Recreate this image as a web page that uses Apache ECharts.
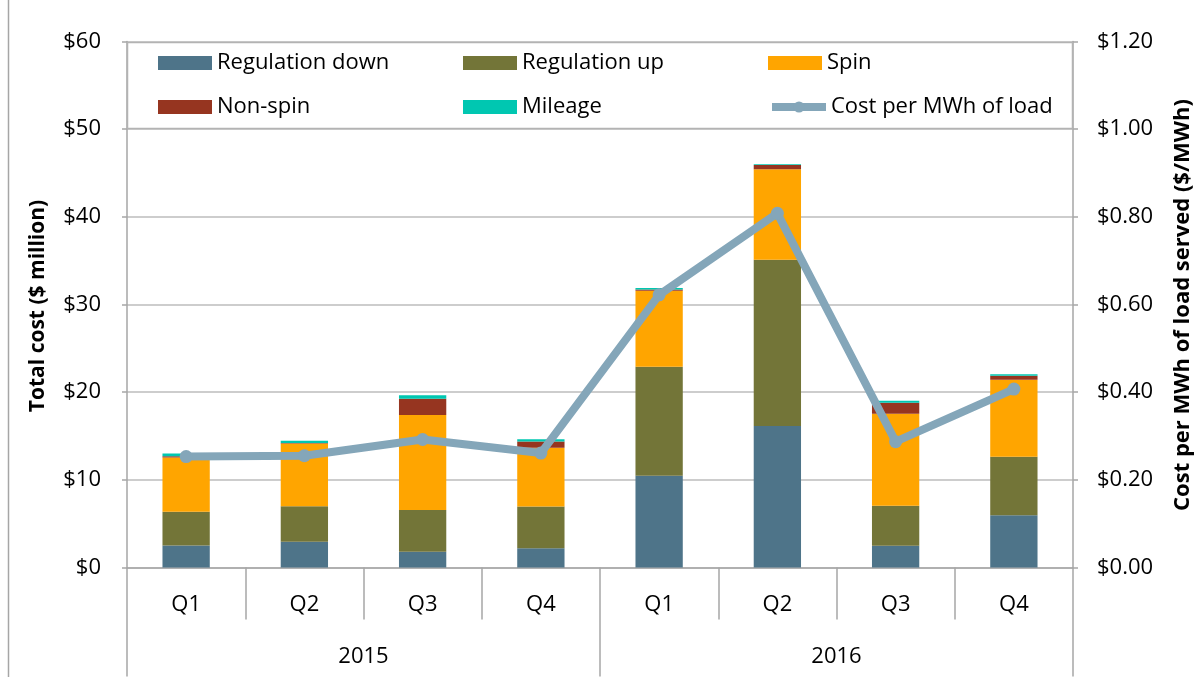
<!DOCTYPE html>
<html>
<head>
<meta charset="utf-8">
<script src="https://cdn.jsdelivr.net/npm/echarts@6/dist/echarts.min.js"></script>
<style>
  html, body { margin: 0; padding: 0; background: #fff; }
  #chart { width: 1195px; height: 677px; }
</style>
</head>
<body>
<div id="chart"></div>
<script>
// Ancillary service costs by quarter ($ million) and cost per MWh of load ($/MWh)
const quarters = ['Q1', 'Q2', 'Q3', 'Q4', 'Q1', 'Q2', 'Q3', 'Q4'];
const years = ['2015', '2016'];
const regulationDown = [2.5, 2.95, 1.8, 2.2, 10.47, 16.13, 2.49, 5.95];
const regulationUp = [3.85, 4.05, 4.75, 4.75, 12.43, 18.97, 4.56, 6.68];
const spin = [6.2, 7.15, 10.85, 6.72, 8.67, 10.34, 10.49, 8.78];
const nonSpin = [0.15, 0.05, 1.85, 0.69, 0.15, 0.46, 1.26, 0.46];
const mileage = [0.3, 0.25, 0.4, 0.27, 0.15, 0.1, 0.22, 0.16];
const costPerMWh = [0.253, 0.255, 0.292, 0.261, 0.622, 0.808, 0.287, 0.407];
const leftTicks = { min: 0, max: 60, interval: 10 };
const rightTicks = { min: 0, max: 1.2, interval: 0.2 };

const FONT = 'Open Sans';
const GRID_COLOR = '#bdbdbd';
const AXIS_COLOR = '#a6a6a6';
const LINE_COLOR = '#84a6b9';

const chart = echarts.init(document.getElementById('chart'), null, { renderer: 'canvas' });

function barSeries(name, data, color) {
  return {
    name: name,
    type: 'bar',
    stack: 'total',
    xAxisIndex: 0,
    yAxisIndex: 0,
    barWidth: '40%',
    data: data,
    itemStyle: { color: color },
    emphasis: { disabled: true },
    z: 2
  };
}

const legendText = { fontFamily: FONT, fontSize: 22, color: '#000', width: 230, lineHeight: 24 };
const legendBase = {
  itemWidth: 54, itemHeight: 14, itemGap: 16, padding: 0,
  textStyle: legendText, selectedMode: false, z: 5
};

chart.setOption({
  animation: false,
  backgroundColor: '#fff',
  textStyle: { fontFamily: FONT },
  grid: { left: 127, right: 122, top: 41.5, bottom: 109.5, containLabel: false },
  legend: [
    Object.assign({}, legendBase, {
      left: 158, top: 51,
      data: [
        { name: 'Regulation down', icon: 'rect' },
        { name: 'Regulation up', icon: 'rect' },
        { name: 'Spin', icon: 'rect' }
      ]
    }),
    Object.assign({}, legendBase, {
      left: 158, top: 95,
      data: [
        { name: 'Non-spin', icon: 'rect' },
        { name: 'Mileage', icon: 'rect' },
        { name: 'Cost per MWh of load', lineStyle: { width: 8, color: LINE_COLOR } }
      ]
    })
  ],
  xAxis: [
    {
      type: 'category',
      position: 'bottom',
      data: quarters,
      axisLine: { show: true, lineStyle: { color: AXIS_COLOR, width: 1.5 } },
      axisTick: { show: true, length: 52, interval: 0, lineStyle: { color: AXIS_COLOR, width: 1.5 } },
      axisLabel: { margin: 26, fontFamily: FONT, fontSize: 22, color: '#000', interval: 0 },
      splitLine: { show: false }
    },
    {
      type: 'category',
      position: 'bottom',
      data: years,
      axisLine: { show: false },
      axisTick: { show: true, length: 109, interval: 0, lineStyle: { color: AXIS_COLOR, width: 1.5 } },
      axisLabel: { margin: 78, fontFamily: FONT, fontSize: 22, color: '#000', interval: 0 },
      splitLine: { show: false }
    }
  ],
  yAxis: [
    {
      type: 'value',
      position: 'left',
      min: leftTicks.min, max: leftTicks.max, interval: leftTicks.interval,
      axisLine: { show: true, lineStyle: { color: AXIS_COLOR, width: 1.5 } },
      axisTick: { show: true, length: 5, lineStyle: { color: AXIS_COLOR, width: 1.5 } },
      axisLabel: { margin: 26, fontFamily: FONT, fontSize: 22, color: '#000', formatter: v => '$' + v },
      splitLine: { show: true, lineStyle: { color: GRID_COLOR, width: 1.5 } }
    },
    {
      type: 'value',
      position: 'right',
      min: rightTicks.min, max: rightTicks.max, interval: rightTicks.interval,
      axisLine: { show: true, lineStyle: { color: AXIS_COLOR, width: 1.5 } },
      axisTick: { show: true, length: 5, lineStyle: { color: AXIS_COLOR, width: 1.5 } },
      axisLabel: { margin: 24, fontFamily: FONT, fontSize: 22, color: '#000', formatter: v => '$' + v.toFixed(2) },
      splitLine: { show: false }
    }
  ],
  series: [
    barSeries('Regulation down', regulationDown, '#4e7489'),
    barSeries('Regulation up', regulationUp, '#737538'),
    barSeries('Spin', spin, '#ffa500'),
    barSeries('Non-spin', nonSpin, '#963520'),
    barSeries('Mileage', mileage, '#00c7b1'),
    {
      name: 'Cost per MWh of load',
      type: 'line',
      xAxisIndex: 0,
      yAxisIndex: 1,
      data: costPerMWh,
      symbol: 'circle',
      symbolSize: 13,
      lineStyle: { color: LINE_COLOR, width: 8 },
      itemStyle: { color: LINE_COLOR },
      emphasis: { disabled: true },
      z: 3
    }
  ],
  graphic: [
    {
      type: 'rect',
      z: 1,
      shape: { x: 127.5, y: 42.5, width: 945, height: 86 },
      style: { fill: '#fff', stroke: '#b3b3b3', lineWidth: 1.5 }
    },
    {
      type: 'line',
      z: 1,
      shape: { x1: 8.5, y1: 0, x2: 8.5, y2: 677 },
      style: { stroke: '#a6a6a6', lineWidth: 1.5 }
    },
    {
      type: 'text',
      z: 5,
      x: 38, y: 306,
      rotation: Math.PI / 2,
      style: {
        text: 'Total cost ($ million)',
        fontFamily: FONT, fontSize: 21, fontWeight: 'bold', fill: '#000',
        align: 'center', verticalAlign: 'middle'
      }
    },
    {
      type: 'text',
      z: 5,
      x: 1183, y: 305,
      rotation: Math.PI / 2,
      style: {
        text: 'Cost per MWh of load served ($/MWh)',
        fontFamily: FONT, fontSize: 22, fontWeight: 'bold', fill: '#000',
        align: 'center', verticalAlign: 'middle'
      }
    }
  ]
});
</script>
</body>
</html>
